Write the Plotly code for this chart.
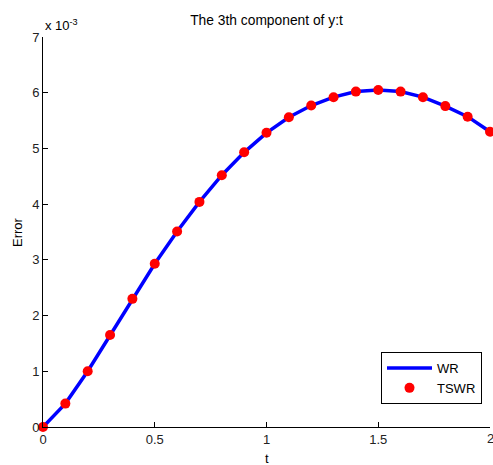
import plotly.graph_objects as go

t = [0.0, 0.1, 0.2, 0.3, 0.4, 0.5, 0.6, 0.7, 0.8, 0.9, 1.0,
     1.1, 1.2, 1.3, 1.4, 1.5, 1.6, 1.7, 1.8, 1.9, 2.0]
err_e3 = [0.0, 0.42, 1.0, 1.65, 2.30, 2.93, 3.51, 4.04, 4.52, 4.93, 5.28,
          5.56, 5.77, 5.92, 6.02, 6.05, 6.02, 5.92, 5.76, 5.57, 5.30]
err = [v * 1e-3 for v in err_e3]

x_ticks = [0, 0.5, 1, 1.5, 2]
x_tick_text = ["0", "0.5", "1", "1.5", "2"]
y_ticks_e3 = [0, 1, 2, 3, 4, 5, 6, 7]
y_ticks = [v * 1e-3 for v in y_ticks_e3]
y_tick_text = [str(v) for v in y_ticks_e3]

font = "Liberation Sans, Arial, sans-serif"

W, H = 493, 465
L, R, T, B = 43, 3, 37, 38
pw, ph = W - L - R, H - T - B

fig = go.Figure()
fig.add_trace(go.Scatter(x=t, y=err, mode="lines", name="WR", cliponaxis=False,
                         line=dict(color="#0000ff", width=3.5)))
fig.add_trace(go.Scatter(x=t, y=err, mode="markers", name="TSWR", cliponaxis=False,
                         marker=dict(color="#ff0000", size=10)))

fig.update_layout(
    width=W, height=H,
    margin=dict(l=L, r=R, t=T, b=B, autoexpand=False),
    paper_bgcolor="white", plot_bgcolor="white",
    font=dict(family=font, size=13, color="#222"),
    title=dict(text="The 3th component of y:t", x=(L + pw / 2) / W, xanchor="center",
               y=1 - 20 / H, yanchor="middle",
               font=dict(family=font, size=13.8, color="black")),
    showlegend=True,
    legend=dict(x=(381 - L) / pw, y=(427 - 352) / ph, xanchor="left", yanchor="top",
                bordercolor="black", borderwidth=1, bgcolor="white",
                font=dict(family=font, size=13, color="black"),
                itemwidth=45, tracegroupgap=4),
    xaxis=dict(range=[0, 2], tickvals=x_ticks, ticktext=x_tick_text,
               showline=True, linecolor="black", linewidth=1,
               ticks="inside", ticklen=5, tickcolor="black", automargin=False,
               showgrid=False, zeroline=False, mirror=False),
    yaxis=dict(range=[0, 7e-3], tickvals=y_ticks, ticktext=y_tick_text,
               showline=True, linecolor="black", linewidth=1,
               ticks="inside", ticklen=5, tickcolor="black", automargin=False,
               showgrid=False, zeroline=False, mirror=False),
    annotations=[
        dict(text="x 10<sup>-3</sup>", xref="paper", yref="paper",
             x=0, y=1, xanchor="left", yanchor="bottom", yshift=2,
             showarrow=False, font=dict(family=font, size=13, color="black")),
        dict(text="Error", xref="paper", yref="paper",
             x=(17 - L) / pw, y=(427 - 232) / ph, xanchor="center", yanchor="middle",
             textangle=-90, showarrow=False,
             font=dict(family=font, size=13, color="black")),
        dict(text="t", xref="paper", yref="paper",
             x=0.5, y=-(458 - 427) / ph, xanchor="center", yanchor="middle",
             showarrow=False, font=dict(family=font, size=13, color="black")),
        dict(text=x_tick_text[-1], xref="x", yref="paper",
             x=x_ticks[-1], y=0, xanchor="center", yanchor="top", yshift=-2,
             showarrow=False, font=dict(family=font, size=13, color="#222")),
    ],
)

fig.write_html("out.html", config={"displayModeBar": False},
               post_script="document.body.style.margin='0px';document.body.style.overflow='hidden';")
